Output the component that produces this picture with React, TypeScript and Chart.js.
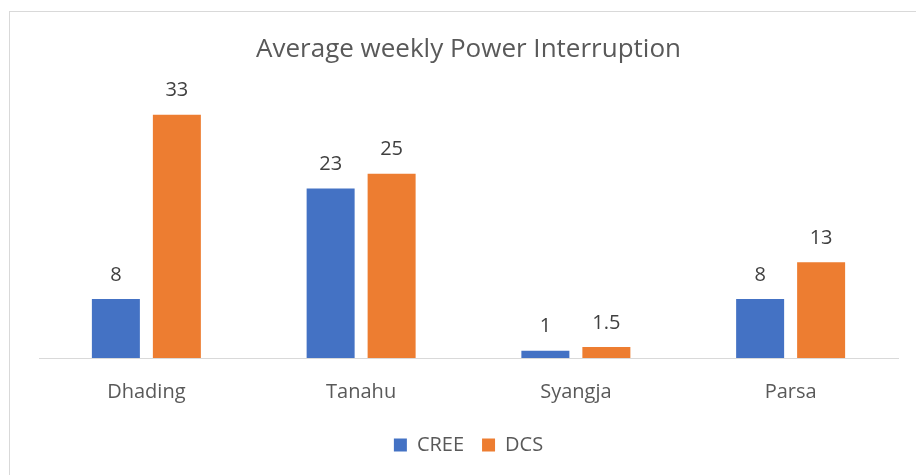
import React, { useEffect, useRef } from "react";
import { Chart, registerables } from "chart.js";

Chart.register(...registerables);

const categories = ["Dhading", "Tanahu", "Syangja", "Parsa"];
const creeValues = [8, 23, 1, 8];
const dcsValues = [33, 25, 1.5, 13];
const seriesNames = ["CREE", "DCS"];
const titleText = "Average weekly Power Interruption";

const FONT = "'Open Sans', 'DejaVu Sans', sans-serif";

const frameAndLabels = {
  id: "frameAndLabels",
  beforeDraw(chart: any) {
    const ctx = chart.ctx;
    ctx.save();
    ctx.fillStyle = "#ffffff";
    ctx.fillRect(0, 0, chart.width, chart.height);
    ctx.strokeStyle = "#d9d9d9";
    ctx.lineWidth = 1;
    ctx.strokeRect(9.5, 11.5, chart.width + 20, chart.height + 20);
    ctx.restore();
  },
  afterDatasetsDraw(chart: any) {
    const ctx = chart.ctx;
    ctx.save();
    ctx.font = `20px ${FONT}`;
    ctx.fillStyle = "#404040";
    ctx.textAlign = "center";
    ctx.textBaseline = "middle";
    chart.data.datasets.forEach((ds: any, di: number) => {
      const meta = chart.getDatasetMeta(di);
      meta.data.forEach((bar: any, i: number) => {
        ctx.fillText(String(ds.data[i]), bar.x, bar.y - 24);
      });
    });
    ctx.restore();
  },
};

export default function App() {
  const ref = useRef<HTMLCanvasElement | null>(null);
  useEffect(() => {
    if (!ref.current) return;
    const chart = new Chart(ref.current, {
      type: "bar",
      data: {
        labels: categories,
        datasets: [
          {
            label: seriesNames[0],
            data: creeValues,
            backgroundColor: "#4472C4",
            borderWidth: 0,
            categoryPercentage: 0.568,
            barPercentage: 0.787,
          },
          {
            label: seriesNames[1],
            data: dcsValues,
            backgroundColor: "#ED7D31",
            borderWidth: 0,
            categoryPercentage: 0.568,
            barPercentage: 0.787,
          },
        ],
      },
      options: {
        responsive: false,
        maintainAspectRatio: false,
        animation: false,
        layout: { padding: { top: 0, left: 39, right: 18, bottom: 10 } },
        plugins: {
          tooltip: { enabled: false },
          title: {
            display: true,
            text: titleText,
            color: "#595959",
            font: { family: FONT, size: 26, weight: "normal" },
            padding: { top: 34.4, bottom: 34.4 },
          },
          legend: {
            position: "bottom",
            labels: {
              boxWidth: 13,
              boxHeight: 13,
              padding: 18,
              color: "#595959",
              font: { family: FONT, size: 20 },
            },
          },
        },
        scales: {
          x: {
            grid: { display: false },
            border: { display: true, color: "#d9d9d9", width: 1 },
            ticks: {
              color: "#595959",
              padding: 14,
              font: { family: FONT, size: 20 },
            },
            afterFit: (scale: any) => {
              scale.height -= 1;
            },
          },
          y: {
            display: false,
            min: 0,
            max: 35,
          },
        },
      },
      plugins: [frameAndLabels],
    });
    return () => chart.destroy();
  }, []);
  return (
    <div style={{ position: "absolute", left: 0, top: 0, width: 916, height: 475, overflow: "hidden", background: "#fff" }}>
      <canvas ref={ref} width={916} height={475} style={{ display: "block" }} />
    </div>
  );
}
